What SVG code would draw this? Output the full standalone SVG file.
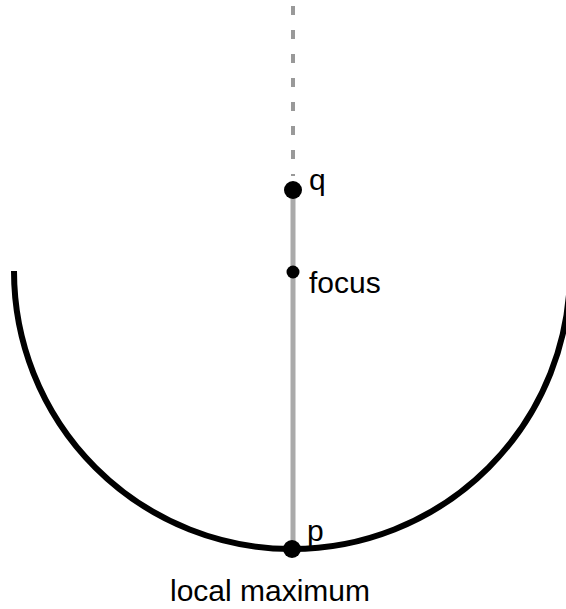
<svg xmlns="http://www.w3.org/2000/svg" width="566" height="609" viewBox="0 0 566 609">
<style>
.lbl{font-family:"Liberation Sans",Arial,sans-serif;font-size:30px;fill:#000}
.dot{fill:#000}
</style>
<rect width="566" height="609" fill="#fff"/>
<g id="connectors">
<line x1="293" y1="6" x2="293" y2="176" stroke="#999" stroke-width="4" stroke-dasharray="9,15"/>
<line x1="293" y1="190" x2="293" y2="549" stroke="#aaa" stroke-width="5"/>
</g>
<g id="curve">
<path d="M14,271 A278,278 0 0 0 570,271" fill="none" stroke="#000" stroke-width="6"/>
</g>
<g id="q"><circle class="dot" cx="293" cy="190" r="9"/><text class="lbl" x="309" y="190">q</text></g>
<g id="focus"><circle class="dot" cx="293" cy="272" r="6.5"/><text class="lbl" x="309" y="293">focus</text></g>
<g id="p"><circle class="dot" cx="292" cy="549" r="9"/><text class="lbl" x="307" y="541">p</text></g>
<g id="caption"><text class="lbl" x="270" y="601" text-anchor="middle">local maximum</text></g>
</svg>
